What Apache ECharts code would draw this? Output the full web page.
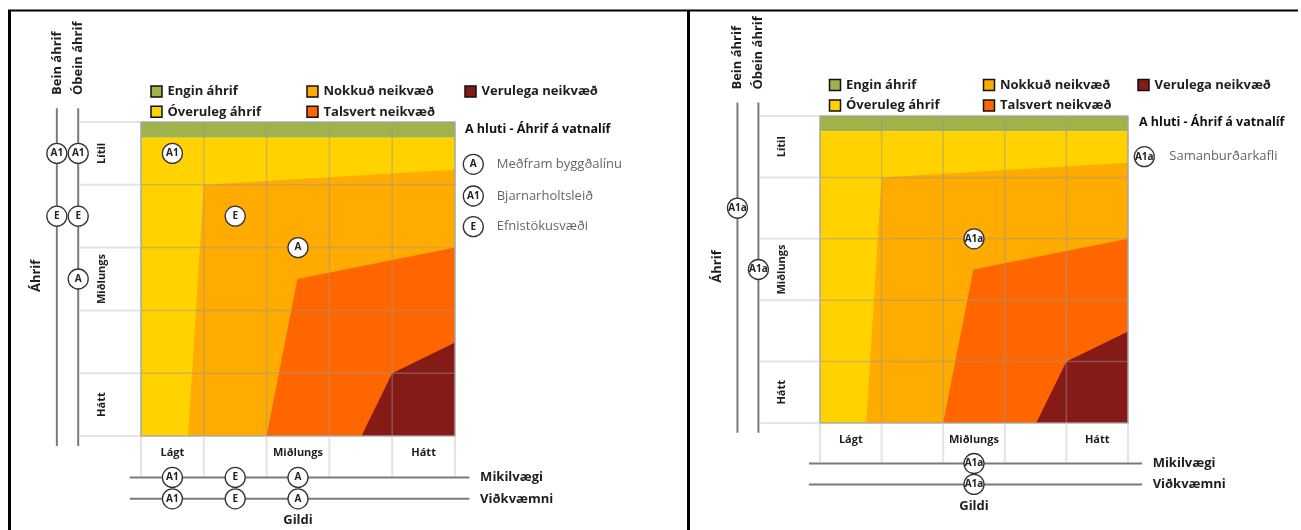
<!DOCTYPE html>
<html><head><meta charset="utf-8">
<script src="https://cdn.jsdelivr.net/npm/echarts@6/dist/echarts.min.js"></script>
<style>html,body{margin:0;padding:0;background:#fff}#c{width:1301px;height:530px}</style>
</head><body><div id="c"></div><script>
const FONT = '"Open Sans", "DejaVu Sans", sans-serif';

// ---------- data ----------
const colLabels = ['Lágt', '', 'Miðlungs', '', 'Hátt'];          // Gildi (left -> right)
const rowLabels = ['Lítil', '', 'Miðlungs', '', 'Hátt'];         // Áhrif (top -> bottom)
const zoneNames = ['Engin áhrif', 'Óveruleg áhrif', 'Nokkuð neikvæð', 'Talsvert neikvæð', 'Verulega neikvæð'];
const zoneColors = ['#A0B34B', '#FFD200', '#FFAB00', '#FF6600', '#861A17'];
// zone polygons in matrix units (x: Gildi 0..5, y: 0 = Hátt bottom .. 5 = Lítil top)
const zoneEngin    = [[0, 4.75], [5, 4.75], [5, 5], [0, 5]];
const zoneOveruleg = [[0, 0], [5, 0], [5, 4.75], [0, 4.75]];
const zoneNokkud   = [[0.75, 0], [1.0, 4.0], [5, 4.24], [5, 0]];
const zoneTalsvert = [[2.0, 0], [2.49, 2.5], [5, 3.0], [5, 0]];
const zoneVerulega = [[3.51, 0], [4.0, 1.0], [5, 1.49], [5, 0]];
const zones = [zoneEngin, zoneOveruleg, zoneNokkud, zoneTalsvert, zoneVerulega];

const sectionTitle = 'A hluti - Áhrif á vatnalíf';

// left panel
const leftCodes = ['A', 'A1', 'E'];
const leftNames = ['Meðfram byggðalínu', 'Bjarnarholtsleið', 'Efnistökusvæði'];
const leftMatrix = [['A1', 0.5, 4.5], ['E', 1.5, 3.5], ['A', 2.5, 3.0]];
const leftBein = [['A1', 4.5], ['E', 3.5]];
const leftObein = [['A1', 4.5], ['E', 3.5], ['A', 2.5]];
const leftMikilvaegi = [['A1', 0.5], ['E', 1.5], ['A', 2.5]];
const leftVidkvaemni = [['A1', 0.5], ['E', 1.5], ['A', 2.5]];

// right panel
const rightCodes = ['A1a'];
const rightNames = ['Samanburðarkafli'];
const rightMatrix = [['A1a', 2.5, 3.0]];
const rightBein = [['A1a', 3.5]];
const rightObein = [['A1a', 2.5]];
const rightMikilvaegi = [['A1a', 2.5]];
const rightVidkvaemni = [['A1a', 2.5]];

// ---------- layout (styling) ----------
const L = { beinX: -1.34, obeinX: -1.0, labelAreaX: -0.97, rowLabelX: -0.62, colLabelY: -0.27,
  colLineY: -0.64, mikY: -0.66, vidY: -1.0, gildiY: -1.35, hLineX0: -0.18, hLineX1: 5.23,
  hLabelX: 5.4, sideTop: 5.22, sideBottom: -0.16, sideTitleY: 5.43, ahrifX: -1.66, ahrifY: 2.55 };

const panels = [
  { grid: { left: 141, top: 122, width: 314, height: 314 },
    legendCols: [151, 307, 465], legendRows: [91.5, 111.8],
    titleX: 465, titleY: 129, codeX: 473.3, codeYs: [164.3, 196, 226.7], textX: 496.7,
    codes: leftCodes, names: leftNames, matrix: leftMatrix, bein: leftBein, obein: leftObein,
    mik: leftMikilvaegi, vid: leftVidkvaemni },
  { grid: { left: 820, top: 116, width: 308, height: 307 },
    legendCols: [829.5, 983.5, 1138], legendRows: [85, 105.5],
    titleX: 1139, titleY: 122, codeX: 1144.3, codeYs: [156.7], textX: 1169.3,
    codes: rightCodes, names: rightNames, matrix: rightMatrix, bein: rightBein, obein: rightObein,
    mik: rightMikilvaegi, vid: rightVidkvaemni }
];

const TXT = '#1e1e1e';
function circleMarker(p, code) {
  return { type: 'group', children: [
    { type: 'circle', shape: { cx: p[0], cy: p[1], r: 10 }, style: { fill: '#fff', stroke: '#333', lineWidth: 1.3 } },
    { type: 'text', x: p[0], y: p[1], style: { text: code, font: 'bold 10px ' + FONT, fill: '#222', align: 'center', verticalAlign: 'middle' } }
  ] };
}

const grids = [], xAxes = [], yAxes = [], series = [], graphics = [];

panels.forEach((P, gi) => {
  grids.push(P.grid);
  xAxes.push({ gridIndex: gi, type: 'value', min: 0, max: 5, show: false });
  yAxes.push({ gridIndex: gi, type: 'value', min: 0, max: 5, show: false });
  const base = { type: 'custom', xAxisIndex: gi, yAxisIndex: gi, clip: false, silent: true };

  // zones
  series.push(Object.assign({}, base, { z: 1,
    data: zones.map((z, i) => [i, 0]),
    renderItem: (params, api) => ({ type: 'polygon',
      shape: { points: zones[params.dataIndex].map(pt => api.coord(pt)) },
      style: { fill: zoneColors[params.dataIndex] } })
  }));

  // grid lines
  series.push(Object.assign({}, base, { z: 2,
    data: [0, 1, 2, 3, 4, 5].map(k => [k, k]),
    renderItem: (params, api) => {
      const k = params.dataIndex;
      const h0 = api.coord([L.labelAreaX, k]), h1 = api.coord([0, k]), h2 = api.coord([5, k]);
      const v0 = api.coord([k, L.colLineY]), v1 = api.coord([k, 0]), v2 = api.coord([k, 5]);
      const outer = { stroke: '#e4e4e4', lineWidth: 2 };
      const inner = { stroke: 'rgba(150,150,150,0.45)', lineWidth: 1.5 };
      return { type: 'group', children: [
        { type: 'line', shape: { x1: h0[0], y1: h0[1], x2: h1[0], y2: h1[1] }, style: outer },
        { type: 'line', shape: { x1: v0[0], y1: v0[1], x2: v1[0], y2: v1[1] }, style: outer },
        { type: 'line', shape: { x1: h1[0], y1: h1[1], x2: h2[0], y2: h2[1] }, style: inner },
        { type: 'line', shape: { x1: v1[0], y1: v1[1], x2: v2[0], y2: v2[1] }, style: inner }
      ] };
    }
  }));

  // plot border
  series.push(Object.assign({}, base, { z: 3, data: [[0, 0]],
    renderItem: (params, api) => {
      const a = api.coord([0, 5]), b = api.coord([5, 0]);
      return { type: 'rect', shape: { x: a[0], y: a[1], width: b[0] - a[0], height: b[1] - a[1] },
        style: { fill: 'none', stroke: '#a8a8a8', lineWidth: 1.2 } };
    }
  }));

  // row labels
  series.push(Object.assign({}, base, { z: 3,
    data: rowLabels.map((r, i) => [L.rowLabelX, 4.5 - i]),
    renderItem: (params, api) => {
      const p = api.coord([api.value(0), api.value(1)]);
      return { type: 'text', x: p[0], y: p[1], rotation: Math.PI / 2,
        style: { text: rowLabels[params.dataIndex], font: 'bold 11px ' + FONT, fill: TXT, align: 'center', verticalAlign: 'middle' } };
    }
  }));
  // column labels
  series.push(Object.assign({}, base, { z: 3,
    data: colLabels.map((c, i) => [i + 0.5, L.colLabelY]),
    renderItem: (params, api) => {
      const p = api.coord([api.value(0), api.value(1)]);
      return { type: 'text', x: p[0], y: p[1],
        style: { text: colLabels[params.dataIndex], font: 'bold 11px ' + FONT, fill: TXT, align: 'center', verticalAlign: 'middle' } };
    }
  }));

  // side axes (Bein / Óbein) and bottom axes (Mikilvægi / Viðkvæmni)
  series.push(Object.assign({}, base, { z: 4, data: [[0, 0]],
    renderItem: (params, api) => {
      const ln = { stroke: '#7a7a7a', lineWidth: 2 };
      const c = (x, y) => api.coord([x, y]);
      const bt = c(L.beinX, L.sideTop), bb = c(L.beinX, L.sideBottom);
      const ot = c(L.obeinX, L.sideTop), ob = c(L.obeinX, L.sideBottom);
      const m0 = c(L.hLineX0, L.mikY), m1 = c(L.hLineX1, L.mikY);
      const w0 = c(L.hLineX0, L.vidY), w1 = c(L.hLineX1, L.vidY);
      const bTitle = c(L.beinX, L.sideTitleY), oTitle = c(L.obeinX, L.sideTitleY);
      const ah = c(L.ahrifX, L.ahrifY), gl = c(2.5, L.gildiY);
      const mk = c(L.hLabelX, L.mikY), vk = c(L.hLabelX, L.vidY);
      const f = 'bold 13px ' + FONT;
      return { type: 'group', children: [
        { type: 'line', shape: { x1: bt[0], y1: bt[1], x2: bb[0], y2: bb[1] }, style: ln },
        { type: 'line', shape: { x1: ot[0], y1: ot[1], x2: ob[0], y2: ob[1] }, style: ln },
        { type: 'line', shape: { x1: m0[0], y1: m0[1], x2: m1[0], y2: m1[1] }, style: ln },
        { type: 'line', shape: { x1: w0[0], y1: w0[1], x2: w1[0], y2: w1[1] }, style: ln },
        { type: 'text', x: bTitle[0], y: bTitle[1], rotation: Math.PI / 2, style: { text: 'Bein áhrif', font: f, fill: TXT, align: 'left', verticalAlign: 'middle' } },
        { type: 'text', x: oTitle[0], y: oTitle[1], rotation: Math.PI / 2, style: { text: 'Óbein áhrif', font: f, fill: TXT, align: 'left', verticalAlign: 'middle' } },
        { type: 'text', x: ah[0], y: ah[1], rotation: Math.PI / 2, style: { text: 'Áhrif', font: f, fill: TXT, align: 'center', verticalAlign: 'middle' } },
        { type: 'text', x: gl[0], y: gl[1], style: { text: 'Gildi', font: f, fill: TXT, align: 'center', verticalAlign: 'middle' } },
        { type: 'text', x: mk[0], y: mk[1], style: { text: 'Mikilvægi', font: f, fill: TXT, align: 'left', verticalAlign: 'middle' } },
        { type: 'text', x: vk[0], y: vk[1], style: { text: 'Viðkvæmni', font: f, fill: TXT, align: 'left', verticalAlign: 'middle' } }
      ] };
    }
  }));

  // markers
  const markerSets = [
    P.matrix.map(m => [m[1], m[2], m[0]]),
    P.bein.map(m => [L.beinX, m[1], m[0]]),
    P.obein.map(m => [L.obeinX, m[1], m[0]]),
    P.mik.map(m => [m[1], L.mikY, m[0]]),
    P.vid.map(m => [m[1], L.vidY, m[0]])
  ];
  markerSets.forEach(set => {
    series.push(Object.assign({}, base, { z: 10,
      data: set.map(s => [s[0], s[1]]),
      renderItem: (params, api) => circleMarker(api.coord([api.value(0), api.value(1)]), set[params.dataIndex][2])
    }));
  });

  // zone legend
  const legendPos = [[0, 0], [0, 1], [1, 0], [1, 1], [2, 0]];
  zoneNames.forEach((n, i) => {
    const x = P.legendCols[legendPos[i][0]], y = P.legendRows[legendPos[i][1]];
    graphics.push({ type: 'rect', shape: { x: x, y: y - 5.5, width: 11, height: 11 },
      style: { fill: zoneColors[i], stroke: '#111', lineWidth: 1.5 } });
    graphics.push({ type: 'text', x: x + 16.5, y: y,
      style: { text: n, font: 'bold 13px ' + FONT, fill: TXT, textVerticalAlign: 'middle', verticalAlign: 'middle' } });
  });
  graphics.push({ type: 'text', x: P.titleX, y: P.titleY,
    style: { text: sectionTitle, font: 'bold 12.5px ' + FONT, fill: '#111', verticalAlign: 'middle' } });
  P.codes.forEach((c, i) => {
    const g = circleMarker([P.codeX, P.codeYs[i]], c);
    graphics.push(g);
    graphics.push({ type: 'text', x: P.textX, y: P.codeYs[i],
      style: { text: P.names[i], font: '13px ' + FONT, fill: '#666', verticalAlign: 'middle' } });
  });
});

// table frame
graphics.push({ type: 'line', shape: { x1: 8, y1: 10.5, x2: 1298, y2: 10.5 }, style: { stroke: '#000', lineWidth: 2 } });
graphics.push({ type: 'line', shape: { x1: 9.5, y1: 10, x2: 9.5, y2: 530 }, style: { stroke: '#000', lineWidth: 3 } });
graphics.push({ type: 'line', shape: { x1: 688.5, y1: 10, x2: 688.5, y2: 530 }, style: { stroke: '#000', lineWidth: 3 } });

const chart = echarts.init(document.getElementById('c'), null, { renderer: 'canvas' });
chart.setOption({
  animation: false,
  backgroundColor: '#fff',
  grid: grids, xAxis: xAxes, yAxis: yAxes,
  series: series,
  graphic: graphics
});
</script></body></html>
